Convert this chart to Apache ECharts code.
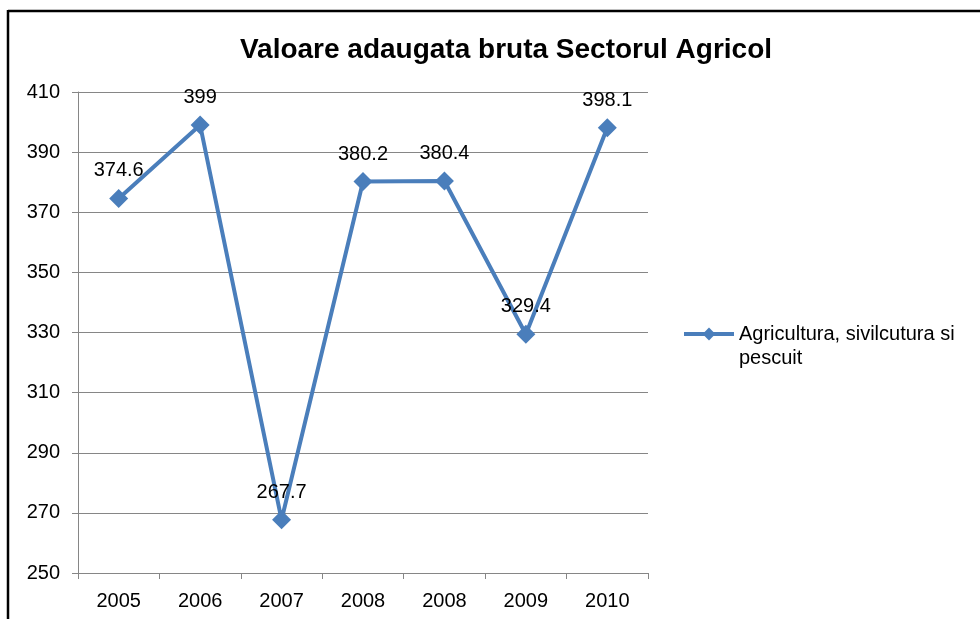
<!DOCTYPE html>
<html>
<head>
<meta charset="utf-8">
<script src="https://cdn.jsdelivr.net/npm/echarts@6/dist/echarts.min.js"></script>
<style>
  html, body { margin: 0; padding: 0; background: #fff; }
  #chart { width: 980px; height: 619px; }
</style>
</head>
<body>
<div id="chart"></div>
<script>
const years = ['2005', '2006', '2007', '2008', '2008', '2009', '2010']
const values = [374.6, 399, 267.7, 380.2, 380.4, 329.4, 398.1]
const seriesName = 'Agricultura, sivilcutura si pescuit'

const chart = echarts.init(document.getElementById('chart'))
const blue = '#4a7ebb'
const font = 'Liberation Sans, Arial, sans-serif'

chart.setOption({
  animation: false,
  backgroundColor: '#fff',
  title: {
    text: 'Valoare adaugata bruta Sectorul Agricol',
    left: 501,
    top: 31,
    textAlign: 'center',
    textStyle: { fontFamily: font, fontSize: 28, fontWeight: 'bold', color: '#000' }
  },
  legend: {
    left: 682,
    top: 298,
    padding: 0,
    itemWidth: 50,
    itemHeight: 16,
    itemGap: 0,
    lineStyle: { width: 4 },
    // empty first line keeps the icon level with the first text line
    formatter: () => '\nAgricultura, sivilcutura si\npescuit',
    textStyle: { fontFamily: font, fontSize: 20, color: '#000', lineHeight: 24 },
    data: [seriesName]
  },
  grid: { left: 78, right: 332, top: 92, bottom: 46, containLabel: false },
  xAxis: {
    type: 'category',
    data: years,
    boundaryGap: true,
    axisLine: { lineStyle: { color: '#868686', width: 1 } },
    axisTick: { show: true, length: 6, lineStyle: { color: '#868686' } },
    axisLabel: { fontFamily: font, fontSize: 20, color: '#000', margin: 18 }
  },
  yAxis: {
    type: 'value',
    min: 250,
    max: 410,
    interval: 20,
    axisLine: { show: true, lineStyle: { color: '#868686', width: 1 } },
    axisTick: { show: true, length: 6, lineStyle: { color: '#868686' } },
    axisLabel: { fontFamily: font, fontSize: 20, color: '#000', margin: 18 },
    splitLine: { lineStyle: { color: '#868686', width: 1 } }
  },
  series: [{
    name: seriesName,
    type: 'line',
    data: values,
    symbol: 'diamond',
    symbolSize: 19,
    itemStyle: { color: blue },
    lineStyle: { color: blue, width: 4 },
    label: {
      show: true,
      position: 'top',
      distance: 8,
      fontFamily: font,
      fontSize: 20,
      color: '#000'
    }
  }],
  graphic: [
    { type: 'line', shape: { x1: 8, y1: 11, x2: 980, y2: 11 }, style: { stroke: '#000', lineWidth: 2.5 } },
    { type: 'line', shape: { x1: 8, y1: 10, x2: 8, y2: 619 }, style: { stroke: '#000', lineWidth: 2.5 } }
  ]
})

window.addEventListener('resize', () => chart.resize())
</script>
</body>
</html>
